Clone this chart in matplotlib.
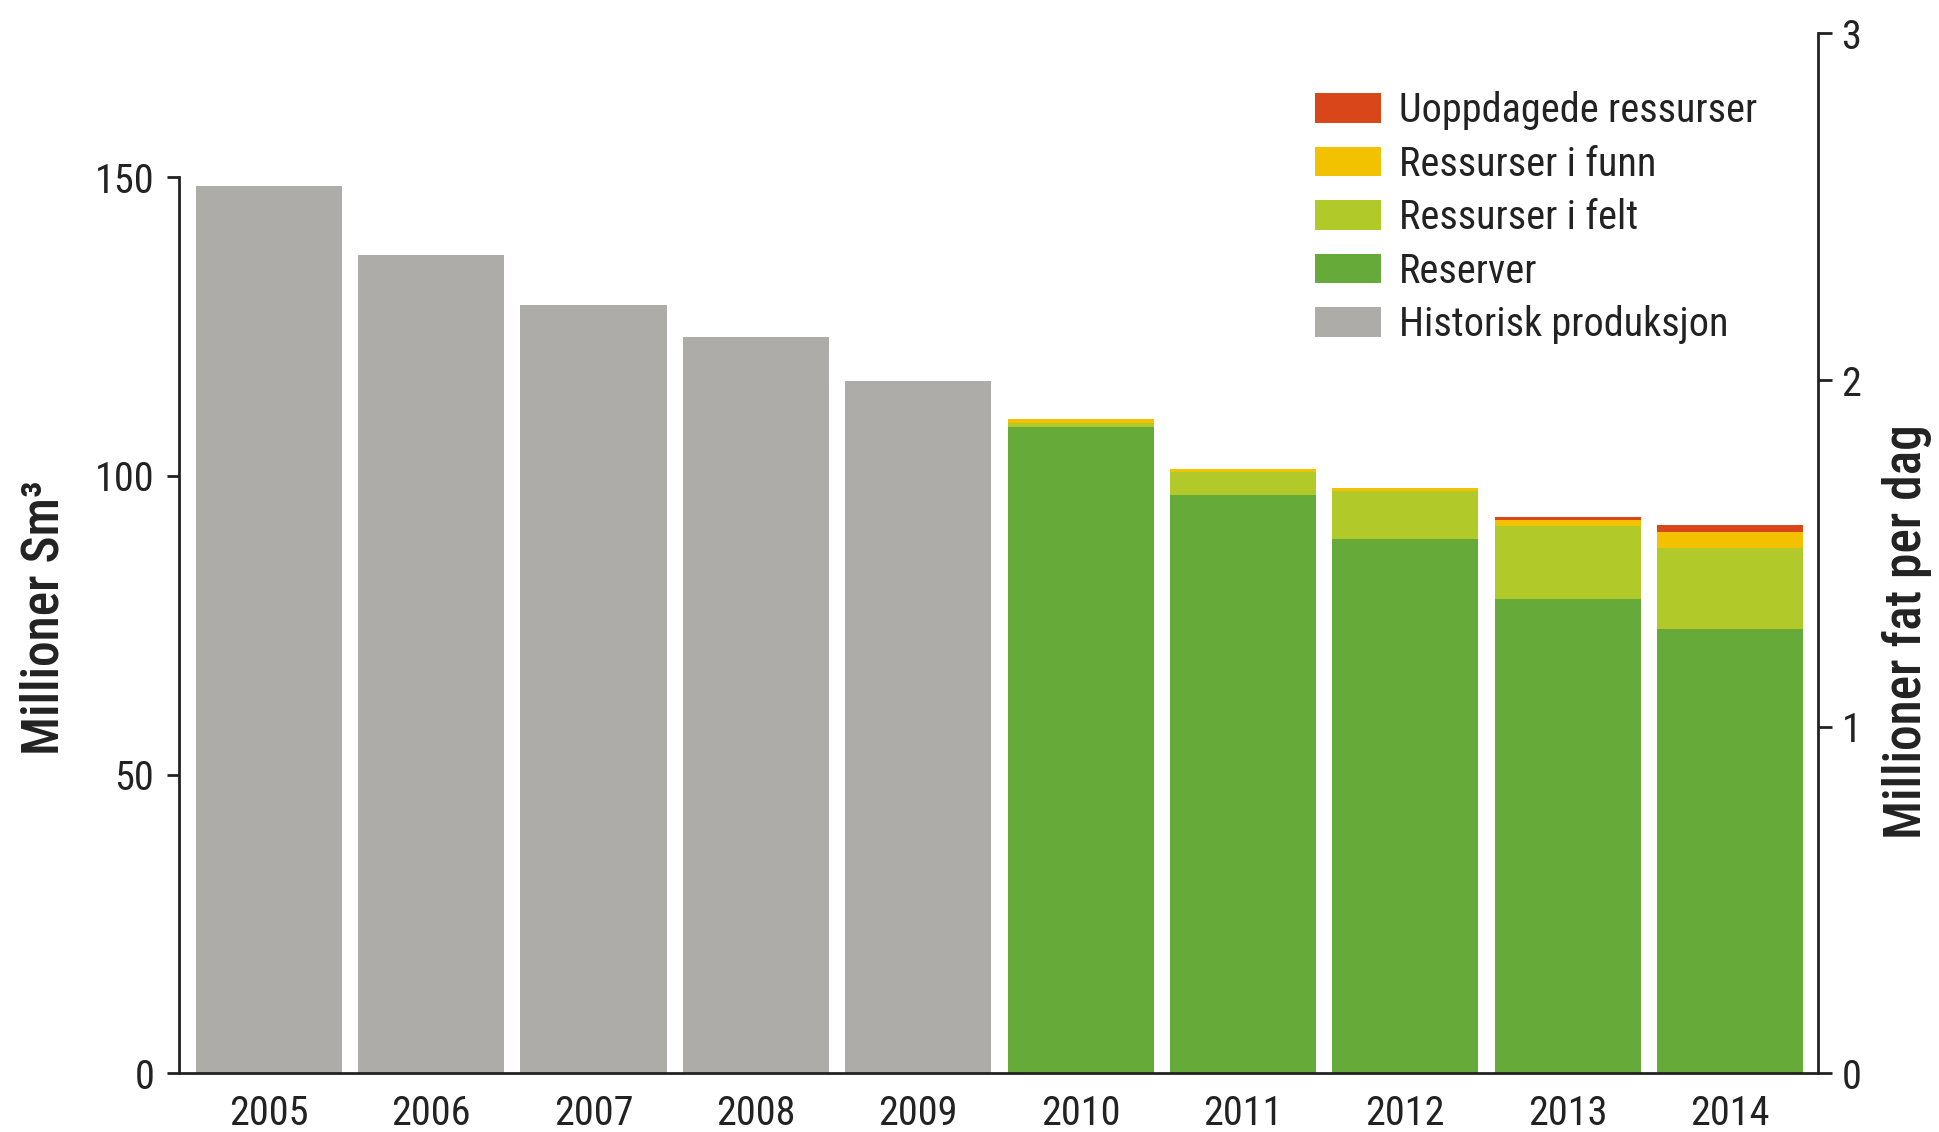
import numpy as np
import matplotlib
matplotlib.use("Agg")
import matplotlib.pyplot as plt

plt.rcParams['font.family'] = ['Roboto Condensed', 'DejaVu Sans']
plt.rcParams['font.stretch'] = 'condensed'

# ── data ──────────────────────────────────────────────────────────────────────
years = ["2005", "2006", "2007", "2008", "2009",
         "2010", "2011", "2012", "2013", "2014"]
historisk = [148.5, 137.0, 128.6, 123.2, 115.9, 0, 0, 0, 0, 0]
reserver  = [0, 0, 0, 0, 0, 108.2, 96.8, 89.5, 79.4, 74.4]
felt      = [0, 0, 0, 0, 0, 0.7, 3.9, 8.0, 12.3, 13.6]
funn      = [0, 0, 0, 0, 0, 0.6, 0.4, 0.5, 1.0, 2.6]
uoppdaget = [0, 0, 0, 0, 0, 0.0, 0.0, 0.0, 0.5, 1.2]

# 1 million barrels per day = 58.03 million Sm3 per year
SM3_PER_MBD = 0.158987 * 365

c_hist = "#adaca8"
c_res = "#66aa3a"
c_felt = "#b1ca2a"
c_funn = "#f2c200"
c_uopp = "#d8461a"
c_axis = "#222222"

fig = plt.figure(figsize=(19.39, 11.32), dpi=100)
ax = fig.add_axes([0.0925, 0.0518, 0.845, 0.9187])

x = np.arange(len(years))
w = 0.9
hist = np.array(historisk)
res = np.array(reserver)
fe = np.array(felt)
fu = np.array(funn)
uo = np.array(uoppdaget)

ax.bar(x, hist, w, color=c_hist, label="Historisk produksjon")
ax.bar(x, res, w, color=c_res, label="Reserver")
ax.bar(x, fe, w, bottom=res, color=c_felt, label="Ressurser i felt")
ax.bar(x, fu, w, bottom=res + fe, color=c_funn, label="Ressurser i funn")
ax.bar(x, uo, w, bottom=res + fe + fu, color=c_uopp, label="Uoppdagede ressurser")

ax.set_xlim(-0.55, 9.54)
ax.set_ylim(0, 3 * SM3_PER_MBD)
ax.set_xticks(x)
ax.set_xticklabels(years)
ax.set_yticks([0, 50, 100, 150])

for s in ["top", "right"]:
    ax.spines[s].set_visible(False)
ax.spines["left"].set_bounds(0, 150)
for s in ["left", "bottom"]:
    ax.spines[s].set_linewidth(2)
    ax.spines[s].set_color(c_axis)

ax.tick_params(axis="y", length=9, width=2, pad=9, labelsize=29,
               color=c_axis, labelcolor=c_axis)
ax.tick_params(axis="x", length=0, pad=15, labelsize=29, labelcolor=c_axis)
ax.set_ylabel("Millioner Sm³", fontsize=37, fontweight="medium",
              color=c_axis)
ax.yaxis.set_label_coords(-0.067, 0.438)

# right axis in million barrels per day
ax2 = ax.twinx()
ax2.set_ylim(0, 3)
ax2.set_yticks([0, 1, 2, 3])
for s in ["top", "left", "bottom"]:
    ax2.spines[s].set_visible(False)
ax2.spines["right"].set_linewidth(2)
ax2.spines["right"].set_color(c_axis)
ax2.tick_params(axis="y", length=10, width=2, pad=7, labelsize=29,
                color=c_axis, labelcolor=c_axis)
ax2.set_ylabel("Millioner fat per dag", fontsize=37, fontweight="medium",
               color=c_axis)
ax2.yaxis.set_label_coords(1.039, 0.425)

handles, labels = ax.get_legend_handles_labels()
leg = ax.legend(handles[::-1], labels[::-1], loc="upper left",
                bbox_to_anchor=(0.683, 0.96), frameon=False, fontsize=29,
                handlelength=1.65, handleheight=0.75, handletextpad=0.45,
                labelspacing=0.36, borderaxespad=0)
for t in leg.get_texts():
    t.set_color(c_axis)

fig.savefig("out.png", dpi=100)
